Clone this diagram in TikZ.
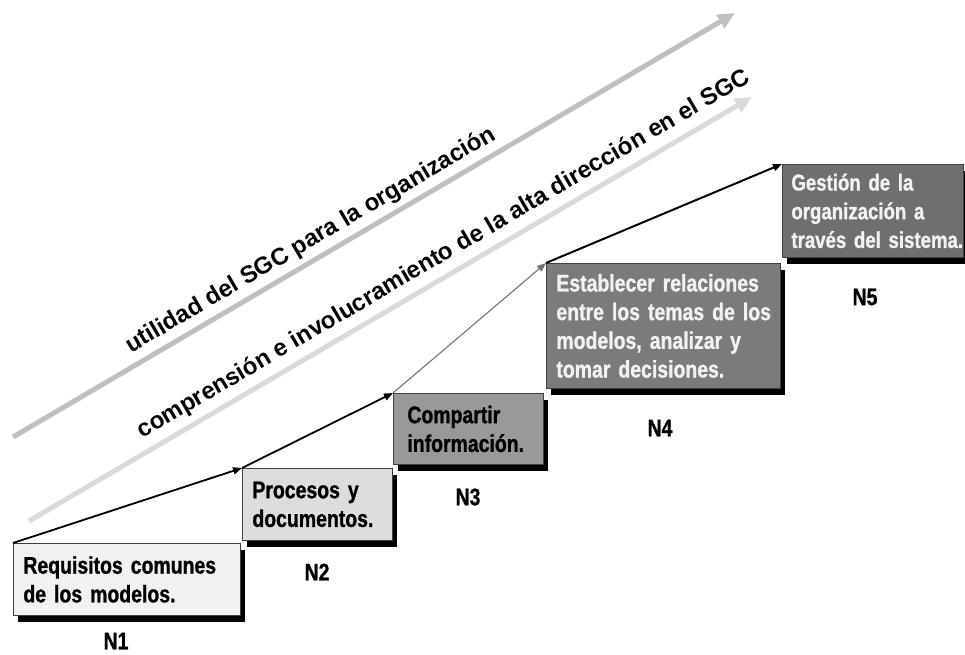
\documentclass[tikz,border=0pt]{standalone}
\usepackage{fontspec}
\setmainfont{Liberation Sans}
\newfontfamily\narrowbf{Liberation Sans Bold}[FakeStretch=0.81, FakeBold=1]
\usepackage{xcolor}
\usetikzlibrary{arrows.meta}
\usetikzlibrary{shadows}
\usetikzlibrary{positioning}

\definecolor{levelA}{HTML}{F2F2F2}
\definecolor{levelB}{HTML}{DDDDDD}
\definecolor{levelC}{HTML}{999999}
\definecolor{levelD}{HTML}{7B7B7B}
\definecolor{levelE}{HTML}{6F6F6F}
\definecolor{trendA}{HTML}{BFBFBF}
\definecolor{trendB}{HTML}{DADADA}

\begin{document}
\begin{tikzpicture}[x=1pt, y=-1pt]
        \tikzset{
            levelbox/.style={
                draw=black!75, line width=0.8pt,
                anchor=north west, align=left,
                inner xsep=10pt, inner ysep=0pt,
                font=\narrowbf\fontsize{24}{28.7}\selectfont,
                drop shadow={shadow xshift=5pt, shadow yshift=-7pt, fill=black, opacity=1},
            },
            levellabel/.style={font=\narrowbf\fontsize{24}{26}\selectfont, inner sep=0pt},
            stepline/.style={-{Triangle[length=9pt, width=7pt]}, line width=1.8pt},
            trendline/.style={-{Triangle[length=17pt, width=15pt]}, line width=5pt},
            trendtext/.style={font=\bfseries\fontsize{24}{28}\selectfont, rotate=30.4, anchor=base, inner sep=0pt},
        }
        \useasboundingbox (0,0) rectangle (965,654);

        % tendencias
        \coordinate (u0) at (13,437);
        \coordinate (u1) at (735,13);
        \coordinate (c0) at (29,521);
        \coordinate (c1) at (752,97);
        \draw[trendline, color=trendA] (u0) -- (u1);
        \draw[trendline, color=trendB] (c0) -- (c1);
        \node[trendtext] (utilidad) at (314,246) {utilidad del SGC para la organización};
        \node[trendtext] (comprension) at (447,260) {comprensión e involucramiento de la alta dirección en el SGC};

        % niveles
        \node[levelbox, fill=levelA, text width=207pt, minimum height=72pt] (b1) at (13,543)
            {Requisitos comunes\\de los modelos.};
        \node[levelbox, fill=levelB, text width=130pt, minimum height=72pt] (b2) at (242,468)
            {Procesos y\\documentos.};
        \node[levelbox, fill=levelC, inner xsep=14pt, text width=122pt, minimum height=71pt] (b3) at (393,393)
            {Compartir\\información.};
        \node[levelbox, fill=levelD, text=white!95!black, text width=214pt, minimum height=125pt] (b4) at (546,263)
            {\mbox{Establecer relaciones}\\\mbox{entre los temas de los}\\\mbox{modelos, analizar y}\\\mbox{tomar decisiones.}};
        \node[levelbox, fill=levelE, text=white!95!black, inner xsep=9pt, text width=163pt, minimum height=93pt,
              font=\narrowbf\fontsize{23}{28.7}\selectfont] (b5) at (782,164)
            {Gestión de la\\organización a\\\mbox{través del sistema.}};

        \node[levellabel] (n1) at (116,641) {N1};
        \node[levellabel] (n2) at (317,572) {N2};
        \node[levellabel] (n3) at (468,497) {N3};
        \node[levellabel] (n4) at (660,428) {N4};
        \node[levellabel] (n5) at (865,297) {N5};

        % escalones
        \draw[stepline] (b1.north west) -- (b2.north west);
        \draw[stepline] (b2.north west) -- (b3.north west);
        \draw[stepline, line width=1.1pt, color=black!55] (b3.north west) -- (b4.north west);
        \draw[stepline, line width=2pt] (b4.north west) -- (b5.north west);
\end{tikzpicture}
\end{document}
